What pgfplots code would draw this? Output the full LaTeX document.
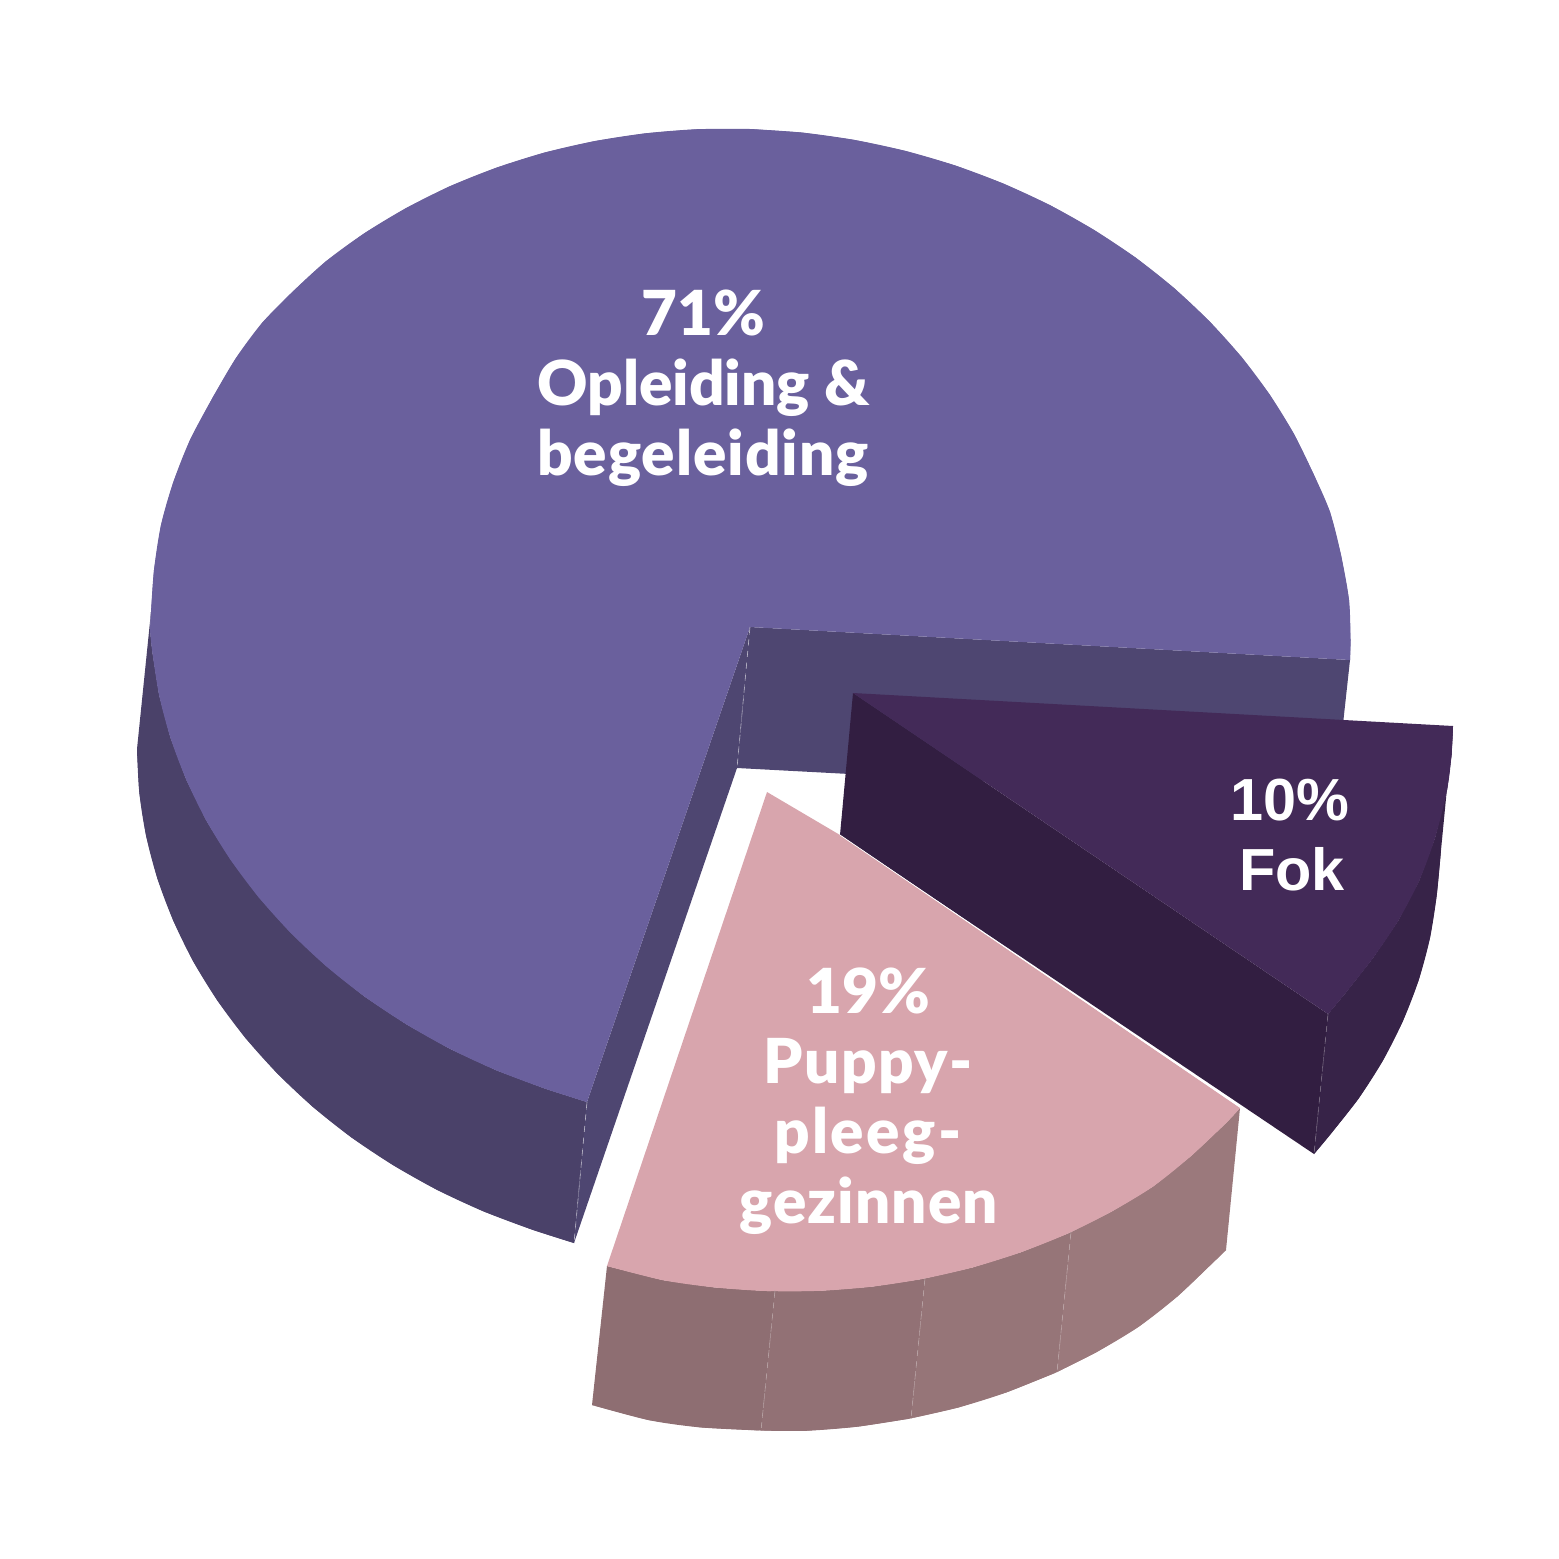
\documentclass[border=0pt]{standalone}
\usepackage{pgfplots}
\pgfplotsset{compat=1.18}
\usepackage{fontspec}
\setmainfont{Lato}[BoldFont={Lato Black}]
\newfontfamily\helv{Liberation Sans}[BoldFont={Liberation Sans Bold}]
\definecolor{bigtop}{HTML}{6A609D}
\definecolor{bigside}{HTML}{4A4169}
\definecolor{biginner}{HTML}{4E4671}
\definecolor{foktop}{HTML}{432A58}
\definecolor{fokinner}{HTML}{321E41}
\definecolor{fokouter}{HTML}{372348}
\definecolor{pinktop}{HTML}{D8A5AD}
\definecolor{pinka}{HTML}{8E6E72}
\definecolor{pinkb}{HTML}{927175}
\definecolor{pinkc}{HTML}{967578}
\definecolor{pinkd}{HTML}{9B797C}
\newcommand{\lab}[4][0]{\node[anchor=base,text=white,inner sep=0pt,font=\fontsize{31}{31}\selectfont\bfseries\addfontfeatures{LetterSpace=#1}] at (axis cs:#2,#3) {#4};}
\newcommand{\labh}[3]{\node[anchor=base,text=white,inner sep=0pt,font=\helv\fontsize{29.7}{30}\selectfont\bfseries] at (axis cs:#1,#2) {#3};}
\begin{document}
\begin{tikzpicture}
\useasboundingbox (0,0) rectangle (779.5pt,779.5pt);
\begin{axis}[
  at={(0,0)}, anchor=south west,
  scale only axis, width=779.5pt, height=779.5pt,
  xmin=0, xmax=1559, ymin=0, ymax=1559, y dir=reverse,
  hide axis, clip=false, no markers,
  every axis plot/.append style={draw=none, line join=round},
]
% big slice: outer side
\addplot[fill=bigside] coordinates {(151,612)(150,630)(152.3,651.5)(159.1,694.8)(170.4,737.5)(186.2,779.4)(206.2,820.3)(230.4,859.5)(258.5,897)(290.4,932.5)(325.7,965.7)(364.3,996.3)(405.9,1024)(450,1048.8)(496.4,1070.3)(544.8,1088.5)(587,1102)(574,1243)(531.8,1229.5)(483.4,1211.3)(437,1189.8)(392.9,1165)(351.3,1137.3)(312.7,1106.7)(277.4,1073.5)(245.5,1038)(217.4,1000.5)(193.2,961.3)(173.2,920.4)(157.4,878.5)(146.1,835.8)(139.3,792.5)(137,749)} --cycle;
\addplot[smooth, fill=bigside] coordinates {(574,1243)(531.8,1229.5)(483.4,1211.3)(437,1189.8)(392.9,1165)(351.3,1137.3)(312.7,1106.7)(277.4,1073.5)(245.5,1038)(217.4,1000.5)(193.2,961.3)(173.2,920.4)(157.4,878.5)(146.1,835.8)(139.3,792.5)(137,749)};
% big slice: inner faces
\addplot[fill=biginner] coordinates {(750,627)(587,1102)(574,1243)(737,768)} --cycle;
\addplot[fill=biginner] coordinates {(750,627)(1350,660)(1343,724)(1337,800)(737,768)} --cycle;
% big slice: top
\addplot[fill=bigtop] coordinates {(750,627)(1350,660)(1350.5,640)(1349,600)(1341,555)(1330,512)(1313.8,474.6)(1293.8,433.7)(1269.6,394.5)(1241.5,357)(1209.6,321.5)(1174.3,288.3)(1135.7,257.7)(1094.1,230)(1050,205.2)(1003.6,183.7)(955.2,165.5)(905.3,150.9)(854.2,139.9)(802.3,132.6)(750,129)(697.7,129.2)(645.8,133.3)(594.7,141.1)(544.8,152.5)(496.4,167.7)(450,186.2)(405.9,208.2)(364.3,233.3)(325.7,261.5)(292,292.3)(262,323)(236,358)(213,397)(190,440)(173,483)(161,525)(154,570)(151,612)(150,630)(152.3,651.5)(159.1,694.8)(170.4,737.5)(186.2,779.4)(206.2,820.3)(230.4,859.5)(258.5,897)(290.4,932.5)(325.7,965.7)(364.3,996.3)(405.9,1024)(450,1048.8)(496.4,1070.3)(544.8,1088.5)(587,1102)} --cycle;
\addplot[smooth, fill=bigtop] coordinates {(1350,660)(1350.5,640)(1349,600)(1341,555)(1330,512)(1313.8,474.6)(1293.8,433.7)(1269.6,394.5)(1241.5,357)(1209.6,321.5)(1174.3,288.3)(1135.7,257.7)(1094.1,230)(1050,205.2)(1003.6,183.7)(955.2,165.5)(905.3,150.9)(854.2,139.9)(802.3,132.6)(750,129)};
\addplot[smooth, fill=bigtop] coordinates {(750,129)(697.7,129.2)(645.8,133.3)(594.7,141.1)(544.8,152.5)(496.4,167.7)(450,186.2)(405.9,208.2)(364.3,233.3)(325.7,261.5)(292,292.3)(262,323)(236,358)(213,397)(190,440)(173,483)(161,525)(154,570)(151,612)(150,630)};
\addplot[smooth, fill=bigtop] coordinates {(150,630)(152.3,651.5)(159.1,694.8)(170.4,737.5)(186.2,779.4)(206.2,820.3)(230.4,859.5)(258.5,897)(290.4,932.5)(325.7,965.7)(364.3,996.3)(405.9,1024)(450,1048.8)(496.4,1070.3)(544.8,1088.5)(587,1102)};
% fok slice
\addplot[fill=fokouter] coordinates {(1453,726)(1451.5,755)(1447,790)(1435,838)(1419,881)(1398,921)(1372.6,958.5)(1344.5,994.2)(1328,1014)(1314,1154)(1330.5,1134.2)(1358.6,1098.5)(1382.8,1060.7)(1402.8,1021.2)(1418.6,980.3)(1429.9,938.2)(1436.7,895.3)(1441,850)} --cycle;
\addplot[smooth, fill=fokouter] coordinates {(1314,1154)(1330.5,1134.2)(1358.6,1098.5)(1382.8,1060.7)(1402.8,1021.2)(1418.6,980.3)(1429.9,938.2)(1436.7,895.3)(1441,850)};
\addplot[fill=fokinner] coordinates {(853,693)(1328,1014)(1314,1154)(840,835)} --cycle;
\addplot[fill=foktop] coordinates {(853,693)(1453,726)(1451.5,755)(1447,790)(1435,838)(1419,881)(1398,921)(1372.6,958.5)(1344.5,994.2)(1328,1014)} --cycle;
\addplot[smooth, fill=foktop] coordinates {(1453,726)(1451.5,755)(1447,790)(1435,838)(1419,881)(1398,921)(1372.6,958.5)(1344.5,994.2)(1328,1014)};
% pink slice
\addplot[fill=pinka] coordinates {(607,1266)(662.8,1280.1)(714.7,1287.4)(767,1291)(775,1290.5)(761,1430.5)(700.7,1427.4)(648.8,1420.1)(592,1405)} --cycle;
\addplot[smooth, fill=pinka] coordinates {(761,1430.5)(700.7,1427.4)(648.8,1420.1)(592,1405)};
\addplot[fill=pinkb] coordinates {(775,1290.5)(819.3,1290.8)(871.2,1286.7)(922.3,1278.9)(925,1278.3)(911,1418.3)(908.3,1418.9)(857.2,1426.7)(805.3,1430.8)(761,1430.5)} --cycle;
\addplot[smooth, fill=pinkb] coordinates {(911,1418.3)(857.2,1426.7)(805.3,1430.8)(761,1430.5)};
\addplot[fill=pinkc] coordinates {(925,1278.3)(972.2,1267.5)(1020.6,1252.3)(1067,1233.8)(1071,1232)(1057,1372)(1053,1373.8)(1006.6,1392.3)(958.2,1407.5)(911,1418.3)} --cycle;
\addplot[smooth, fill=pinkc] coordinates {(1057,1372)(1006.6,1392.3)(958.2,1407.5)(911,1418.3)};
\addplot[fill=pinkd] coordinates {(1071,1232)(1111.1,1211.8)(1152.7,1186.7)(1191,1156)(1226,1123)(1240,1108)(1226,1250)(1212.6,1263)(1177.3,1296.5)(1138.7,1326.7)(1097.1,1351.8)(1057,1372)} --cycle;
\addplot[smooth, fill=pinkd] coordinates {(1226,1250)(1212.6,1263)(1177.3,1296.5)(1138.7,1326.7)(1097.1,1351.8)(1057,1372)};
\addplot[fill=pinktop] coordinates {(767,792)(840,835)(1240,1108)(1226,1123)(1191,1156)(1152.7,1186.7)(1111.1,1211.8)(1067,1233.8)(1020.6,1252.3)(972.2,1267.5)(922.3,1278.9)(871.2,1286.7)(819.3,1290.8)(767,1291)(714.7,1287.4)(662.8,1280.1)(607,1266)} --cycle;
\addplot[smooth, fill=pinktop] coordinates {(1240,1108)(1226,1123)(1191,1156)(1152.7,1186.7)(1111.1,1211.8)(1067,1233.8)(1020.6,1252.3)(972.2,1267.5)(922.3,1278.9)(871.2,1286.7)(819.3,1290.8)(767,1291)(714.7,1287.4)(662.8,1280.1)(607,1266)};
% hairlines and seams
\addplot[draw=white, line width=0.35pt] coordinates {(840,835)(1240,1107)};
\addplot[draw=white!60!biginner, line width=0.3pt, dashed] coordinates {(750,627)(737,768)};
\addplot[draw=white!60!biginner, line width=0.3pt, dashed] coordinates {(587,1102)(574,1243)};
\addplot[draw=white!35!fokinner, line width=0.3pt, dashed] coordinates {(1328,1014)(1314,1154)};
\addplot[draw=white!35!pinka, line width=0.3pt, dashed] coordinates {(775,1290.5)(761,1430.5)};
\addplot[draw=white!35!pinkb, line width=0.3pt, dashed] coordinates {(925,1278.3)(911,1418.3)};
\addplot[draw=white!35!pinkc, line width=0.3pt, dashed] coordinates {(1071,1232)(1057,1372)};
% labels
\lab{703}{335}{71\%}
\lab{703.5}{405}{Opleiding \&}
\lab[1.6]{703}{475}{begeleiding}
\lab{868}{1013}{19\%}
\lab[2.3]{868}{1083}{Puppy-}
\lab[4]{868}{1153}{pleeg-}
\lab[1.8]{869}{1223}{gezinnen}
\labh{1290}{820}{10\%}
\labh{1292}{890}{Fok}
\end{axis}
\end{tikzpicture}
\end{document}
